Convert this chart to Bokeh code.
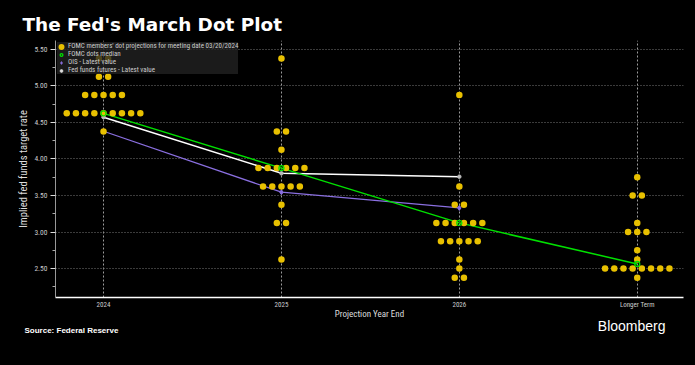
import numpy as np
from bokeh.plotting import figure
from bokeh.models import (FixedTicker, Legend, LegendItem, Range1d, Title)
from bokeh.embed import file_html
from bokeh.resources import INLINE

# ---------------- data ----------------
categories = ["2024", "2025", "2026", "Longer Term"]

rates_2024 = [5.375, 5.125, 4.875, 4.625, 4.375]
counts_2024 = [2, 2, 5, 9, 1]
rates_2025 = [5.375, 4.375, 4.125, 3.875, 3.625, 3.375, 3.125, 2.625]
counts_2025 = [1, 2, 1, 6, 5, 1, 2, 1]
rates_2026 = [4.875, 3.625, 3.375, 3.125, 2.875, 2.625, 2.5, 2.375]
counts_2026 = [1, 1, 2, 6, 5, 1, 1, 2]
rates_longer = [3.75, 3.5, 3.125, 3.0, 2.75, 2.625, 2.5, 2.375]
counts_longer = [1, 2, 1, 3, 1, 1, 8, 1]

median_dots = [4.625, 3.875, 3.125, 2.5625]
ois_latest = [4.38, 3.545, 3.33]
futures_latest = [4.573, 3.804, 3.758]

y_ticks = [2.5, 3.0, 3.5, 4.0, 4.5, 5.0, 5.5]
y_tick_labels = ["2.50", "3.00", "3.50", "4.00", "4.50", "5.00", "5.50"]
y_minor_ticks = [2.25, 2.75, 3.25, 3.75, 4.25, 4.75, 5.25]

# ---------------- styles ----------------
GOLD = "#e8c000"
GREEN = "#00e000"
PURPLE = "#8a6fe0"
NARROW = "Liberation Sans Narrow, Roboto Condensed, Roboto"
DOT_PITCH = 0.0517

groups = [(rates_2024, counts_2024), (rates_2025, counts_2025),
          (rates_2026, counts_2026), (rates_longer, counts_longer)]
dot_x, dot_y = [], []
for i, (rates, counts) in enumerate(groups):
    for r, n in zip(rates, counts):
        for k in range(n):
            dot_x.append(i + (k - (n - 1) / 2) * DOT_PITCH)
            dot_y.append(r)

cat_x = list(range(len(categories)))

p = figure(width=695, height=365,
           x_range=Range1d(-0.27, 3.26), y_range=Range1d(2.103, 5.623),
           output_backend="svg", toolbar_location=None, tools="",
           min_border_left=55, min_border_right=12,
           min_border_top=40, min_border_bottom=68,
           background_fill_color="black", border_fill_color="black",
           outline_line_color=None)

p.title.text = "The Fed's March Dot Plot"
p.title.text_color = "white"
p.title.text_font = "DejaVu Sans"
p.title.text_font_style = "bold"
p.title.text_font_size = "18.4px"
p.title.align = "left"
p.title.offset = -33
p.title.standoff = 11

# axes
p.xaxis.ticker = FixedTicker(ticks=cat_x)
p.xaxis.major_label_overrides = {i: c for i, c in zip(cat_x, categories)}
p.xaxis.axis_line_color = "white"
p.xaxis.axis_line_width = 1.5
p.xaxis.major_tick_line_color = None
p.xaxis.minor_tick_line_color = None
p.xaxis.major_tick_out = 0
p.xaxis.minor_tick_out = 0
p.xaxis.major_label_standoff = 3
p.xaxis.major_label_text_color = "#cccccc"
p.xaxis.major_label_text_font_size = "7px"
p.xaxis.major_label_text_font = NARROW
p.xaxis.axis_label = "Projection Year End"
p.xaxis.axis_label_standoff = -3
p.xaxis.axis_label_text_font_size = "9px"
p.xaxis.axis_label_text_font_style = "normal"
p.xaxis.axis_label_text_font = NARROW
p.xaxis.axis_label_text_color = "#dddddd"

p.yaxis.ticker = FixedTicker(ticks=y_ticks, minor_ticks=y_minor_ticks)
p.yaxis.major_label_overrides = {t: l for t, l in zip(y_ticks, y_tick_labels)}
p.yaxis.axis_line_color = "#999999"
p.yaxis.major_tick_line_color = "#dddddd"
p.yaxis.major_tick_in = 0
p.yaxis.major_tick_out = 5
p.yaxis.minor_tick_line_color = "#aaaaaa"
p.yaxis.minor_tick_in = 0
p.yaxis.minor_tick_out = 3
p.yaxis.major_label_standoff = 3
p.yaxis.major_label_text_color = "#cccccc"
p.yaxis.major_label_text_font_size = "7.5px"
p.yaxis.major_label_text_font = NARROW
p.yaxis.axis_label = "Implied fed funds target rate"
p.yaxis.axis_label_standoff = 1
p.yaxis.axis_label_text_font_size = "10.5px"
p.yaxis.axis_label_text_font_style = "normal"
p.yaxis.axis_label_text_font = NARROW
p.yaxis.axis_label_text_color = "#dddddd"

p.ygrid.grid_line_color = "#777777"
p.ygrid.grid_line_dash = "1 2"
p.xgrid.grid_line_color = "#9a9a9a"
p.xgrid.grid_line_dash = "2 2"

# lines
p.line(cat_x[:3], futures_latest, line_color="white", line_width=1.5)
p.scatter(cat_x[:3], futures_latest, marker="circle", size=3.5,
          fill_color="#bbbbbb", line_color="#bbbbbb")
p.line(cat_x[:3], ois_latest, line_color=PURPLE, line_width=1.3)
p.scatter(cat_x[:3], ois_latest, marker="diamond", size=5,
          fill_color=PURPLE, line_color=PURPLE)
p.line(cat_x, median_dots, line_color=GREEN, line_width=1.5)

# dots
p.scatter(dot_x, dot_y, marker="circle", size=6.5, fill_color=GOLD,
          line_color=None)
p.scatter(cat_x, median_dots, marker="circle", size=5, fill_color=None,
          line_color=GREEN, line_width=1.3)

# legend (placeholder renderers holding one NaN point, never drawn on the plot)
nan_pt = np.array([np.nan])
lg_dots = p.scatter(nan_pt, nan_pt, marker="circle", size=6, fill_color=GOLD,
                    line_color=GOLD, line_width=3.2)
lg_med = p.scatter(nan_pt, nan_pt, marker="circle", size=5, fill_color=None,
                   line_color=GREEN, line_width=1.3)
lg_ois = p.scatter(nan_pt, nan_pt, marker="diamond", size=4, fill_color=PURPLE,
                   line_color=PURPLE, line_width=0.8)
lg_fut = p.scatter(nan_pt, nan_pt, marker="circle", size=4, fill_color="#dddddd",
                   line_color="#dddddd", line_width=0.8)

legend = Legend(items=[
    LegendItem(label="FOMC members' dot projections for meeting date 03/20/2024", renderers=[lg_dots]),
    LegendItem(label="FOMC dots median", renderers=[lg_med]),
    LegendItem(label="OIS - Latest value", renderers=[lg_ois]),
    LegendItem(label="Fed funds futures - Latest value", renderers=[lg_fut]),
], location="top_left", margin=2, padding=2, spacing=0,
    label_height=7, glyph_height=7, glyph_width=8, label_standoff=3,
    label_text_font_size="7px", label_text_font=NARROW,
    label_text_color="#cccccc", label_text_line_height=1.0,
    background_fill_color="#222222", background_fill_alpha=0.78,
    border_line_color=None)
p.add_layout(legend)

# footer (titles in the bottom panel)
p.add_layout(Title(text="Bloomberg", align="right", offset=18,
                   standoff=-11, text_color="white", text_font="Liberation Sans",
                   text_font_style="normal", text_font_size="14px"), "below")
p.add_layout(Title(text="Source: Federal Reserve", align="left", offset=-31,
                   standoff=-12, text_color="white", text_font="Liberation Sans",
                   text_font_style="bold", text_font_size="8px"), "below")

html = file_html(p, INLINE)
html = html.replace("</head>", "<style>html,body{background:#000;}</style></head>", 1)
open("out.html", "w").write(html)
